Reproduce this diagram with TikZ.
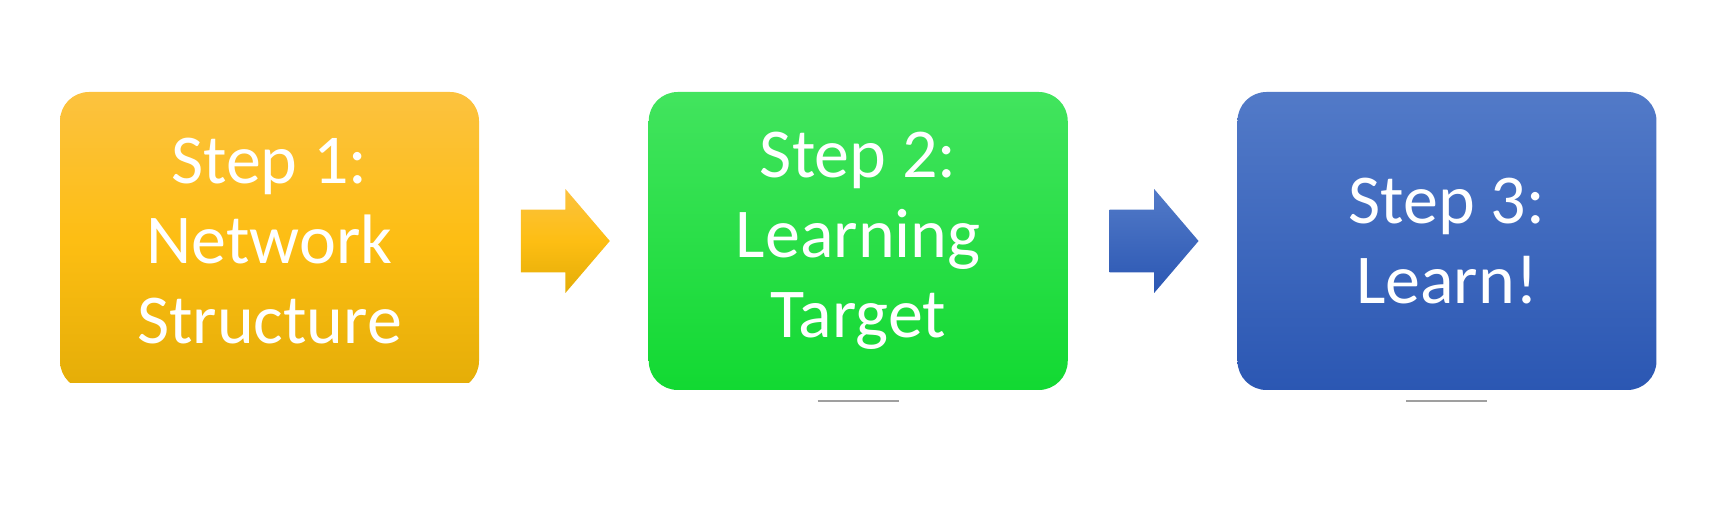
\documentclass[tikz,border=0pt]{standalone}
\usepackage{fontspec}
\setmainfont{Carlito}
\usetikzlibrary{positioning,shapes.arrows}
\definecolor{ambertop}{HTML}{FCC23F}
\definecolor{ambermid}{HTML}{FDBE13}
\definecolor{amberbot}{HTML}{E4AD07}
\definecolor{greentop}{HTML}{42E45E}
\definecolor{greenbot}{HTML}{12D932}
\definecolor{bluetop}{HTML}{527AC8}
\definecolor{bluebot}{HTML}{2B57B3}
\tikzset{
	stepbox/.style={rounded corners=14.5pt, minimum width=209.5pt, minimum height=149pt, inner sep=0pt,
		text=white, align=center, font=\fontsize{35}{40}\selectfont},
	steparrow/.style={single arrow, minimum height=44.5pt, inner sep=0pt, text height=15.5pt, text depth=15.5pt,
		single arrow head extend=10.25pt, single arrow tip angle=99},
	underline/.style={draw=gray!75, line width=1pt}
}
\begin{document}
\begin{tikzpicture}[x=0.5pt, y=-0.5pt]
			\useasboundingbox (0,0) rectangle (1712,512);
			\begin{scope}
				\clip (0,0) rectangle (1712,383);
				\node[stepbox, top color=ambertop, bottom color=amberbot, middle color=ambermid] (netbox) at (269.5,241) {Step 1:\\Network\\Structure};
			\end{scope}
			\node[steparrow, top color=ambertop, bottom color=amberbot, middle color=ambermid, right=20.5pt of netbox] (arrowA) {};
			\node[stepbox, top color=greentop, bottom color=greenbot, right=19pt of arrowA] (targetbox) {Step 2:\\Learning\\Target};
			\node[steparrow, top color=bluetop, bottom color=bluebot, right=20.5pt of targetbox] (arrowB) {};
			\node[stepbox, top color=bluetop, bottom color=bluebot, right=19pt of arrowB] (learnbox) {Step 3:\\Learn!};
			\foreach \b in {targetbox,learnbox} {
					\draw[underline] ([shift={(-20.25pt,-5.5pt)}]\b.south) -- ([shift={(20.25pt,-5.5pt)}]\b.south);
				}
		\end{tikzpicture}
\end{document}
